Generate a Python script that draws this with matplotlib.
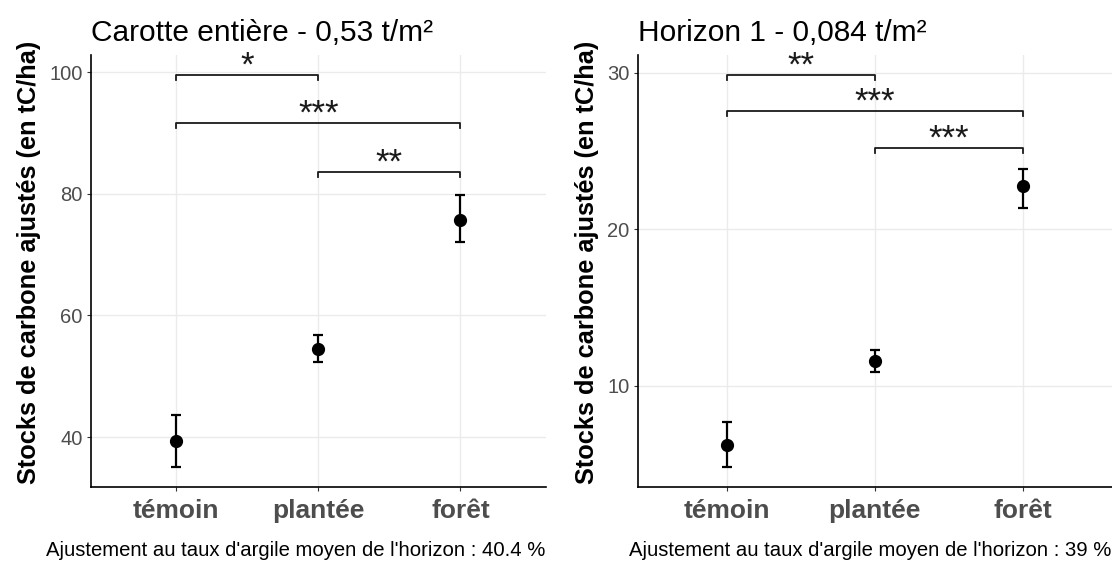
import numpy as np
import matplotlib.pyplot as plt

plt.rcParams['font.family'] = ['Liberation Sans', 'DejaVu Sans']

categories = ['témoin', 'plantée', 'forêt']

# panel 1 : carotte entière
titre1 = 'Carotte entière - 0,53 t/m²'
moy1 = [39.3, 54.5, 75.7]
bas1 = [35.1, 52.3, 72.0]
haut1 = [43.6, 56.7, 79.8]
comp1 = [(1, 2, 99.5, '*'), (1, 3, 91.6, '***'), (2, 3, 83.6, '**')]
yticks1 = [40, 60, 80, 100]
ylim1 = (31.8, 102.8)
caption1 = "Ajustement au taux d'argile moyen de l'horizon : 40.4 %"

# panel 2 : horizon 1
titre2 = 'Horizon 1 - 0,084 t/m²'
moy2 = [6.2, 11.6, 22.75]
bas2 = [4.8, 10.9, 21.35]
haut2 = [7.7, 12.3, 23.85]
comp2 = [(1, 2, 29.9, '**'), (1, 3, 27.6, '***'), (2, 3, 25.2, '***')]
yticks2 = [10, 20, 30]
ylim2 = (3.55, 31.15)
caption2 = "Ajustement au taux d'argile moyen de l'horizon : 39 %"

fig = plt.figure(figsize=(11.12, 5.61), dpi=100)
ax1 = fig.add_axes([0.0818, 0.132, 0.409, 0.770])
ax2 = fig.add_axes([0.5737, 0.132, 0.426, 0.770])


def panel(ax, titre, moy, bas, haut, comp, yticks, ylim, caption):
    x = np.arange(1, len(categories) + 1)
    moy = np.array(moy)
    err = [moy - np.array(bas), np.array(haut) - moy]
    ax.errorbar(x, moy, yerr=err, fmt='o', color='black', markersize=8.5,
                elinewidth=1.6, capsize=3.5, capthick=1.6, zorder=3)
    span = ylim[1] - ylim[0]
    tick = span * 0.012
    for a, b, y, lab in comp:
        ax.plot([a, a, b, b], [y - tick, y, y, y - tick], color='#1a1a1a', lw=1.3)
        # l'astérisque est haut dans la police : on descend la ligne de base
        ax.text((a + b) / 2, y - span * 0.002, lab, ha='center', va='baseline',
                fontsize=25, color='#1a1a1a')
    ax.set_xlim(0.4, 3.6)
    ax.set_ylim(*ylim)
    ax.set_xticks(x)
    ax.set_xticklabels(categories, fontsize=19, fontweight='bold', color='#4D4D4D')
    ax.set_yticks(yticks)
    ax.tick_params(axis='y', labelsize=14.5, labelcolor='#4D4D4D', length=3,
                   color='#333333', pad=3)
    ax.tick_params(axis='x', length=3, color='#333333', pad=6)
    ax.grid(True, color='#EBEBEB', lw=1)
    ax.set_axisbelow(True)
    for s in ['top', 'right']:
        ax.spines[s].set_visible(False)
    for s in ['left', 'bottom']:
        ax.spines[s].set_linewidth(1.2)
    ax.set_ylabel('Stocks de carbone ajustés (en tC/ha)', fontsize=18.3,
                  fontweight='bold', labelpad=6)
    ax.yaxis.label.set_y(0.52)
    ax.set_title(titre, loc='left', fontsize=21.5, pad=10)
    ax.text(1.0, -0.146, caption, transform=ax.transAxes, ha='right',
            va='center', fontsize=14.6)


panel(ax1, titre1, moy1, bas1, haut1, comp1, yticks1, ylim1, caption1)
panel(ax2, titre2, moy2, bas2, haut2, comp2, yticks2, ylim2, caption2)

fig.savefig('out.png', dpi=100)
